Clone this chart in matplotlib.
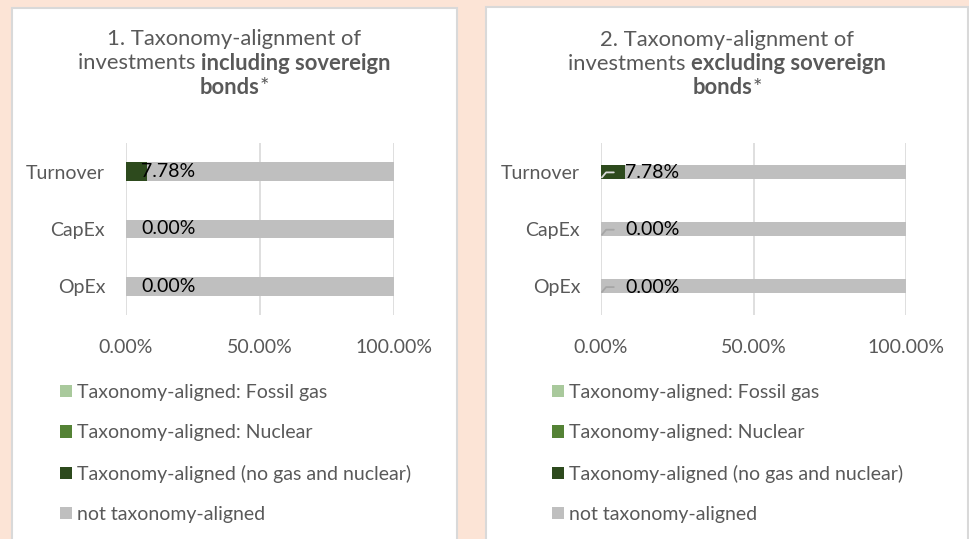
import matplotlib
matplotlib.use("Agg")
import matplotlib.pyplot as plt
from matplotlib.patches import Rectangle, Patch

plt.rcParams['font.family'] = ['Lato', 'DejaVu Sans']

# Data
categories = ['Turnover', 'CapEx', 'OpEx']
fossil_gas = [0.0, 0.0, 0.0]
nuclear = [0.0, 0.0, 0.0]
aligned_other = [7.78, 0.0, 0.0]
not_aligned = [92.22, 100.0, 100.0]
value_labels = ['7.78%', '0.00%', '0.00%']
x_ticks = [0, 50, 100]
x_tick_labels = ['0.00%', '50.00%', '100.00%']
series_names = ['Taxonomy-aligned: Fossil gas', 'Taxonomy-aligned: Nuclear',
                'Taxonomy-aligned (no gas and nuclear)', 'not taxonomy-aligned']
series_colors = ['#A9C99C', '#548235', '#2D4A1D', '#BFBFBF']

W, H = 969, 539
fig = plt.figure(figsize=(W / 100, H / 100), dpi=100)
fig.patch.set_facecolor('#FCE4D6')

GRAY_TXT = '#595959'


def px(x, y, w, h):
    # pixel box (top-left origin) -> figure fraction
    return [x / W, 1 - (y + h) / H, w / W, h / H]


# white panels behind the charts
for (x0, y0, x1) in [(12, 8, 457), (486, 7, 968)]:
    fig.patches.append(Rectangle((x0 / W, -0.01), (x1 - x0) / W, 1.01 - y0 / H,
                                 transform=fig.transFigure, facecolor='white',
                                 edgecolor='#D9D9D9', linewidth=1.5, zorder=-5))


def draw_title(cx, lines):
    renderer = fig.canvas.get_renderer()
    for y, pieces in lines:
        texts = [fig.text(0, 1 - y / H, s, fontsize=15.8, color=GRAY_TXT,
                          fontweight=wt, va='center', ha='left') for s, wt in pieces]
        widths = [t.get_window_extent(renderer).width for t in texts]
        x = cx - sum(widths) / 2
        for t, w in zip(texts, widths):
            t.set_x(x / W)
            x += w


def draw_chart(rect, bar_h, label_dx, leaders):
    ax = fig.add_axes(px(*rect))
    ypos = list(range(len(categories)))
    left = [0.0] * len(categories)
    for vals, color in zip([fossil_gas, nuclear, aligned_other, not_aligned], series_colors):
        ax.barh(ypos, vals, left=left, height=bar_h, color=color, zorder=2)
        left = [a + b for a, b in zip(left, vals)]
    for i, lab in enumerate(value_labels):
        if leaders:
            lc = '#D9D9D9' if aligned_other[i] > 0 else '#A6A6A6'
            ax.annotate(lab, xy=(0.3, i + 0.1), xytext=(label_dx, 5), textcoords='offset pixels',
                        fontsize=14, color='black', va='center', ha='left', zorder=4,
                        arrowprops=dict(arrowstyle='-', color=lc, lw=1.3, shrinkA=6, shrinkB=0,
                                        relpos=(0, 0.5),
                                        connectionstyle='angle,angleA=0,angleB=50,rad=0'))
        else:
            ax.annotate(lab, xy=(0, i), xytext=(label_dx, 0), textcoords='offset pixels',
                        fontsize=14, color='black', va='center', ha='left', zorder=4)
    ax.set_xlim(0, 100)
    ax.set_ylim(len(categories) - 0.5, -0.5)
    ax.set_yticks(ypos)
    ax.set_yticklabels(categories, fontsize=14, color=GRAY_TXT)
    ax.set_xticks(x_ticks)
    ax.set_xticklabels(x_tick_labels, fontsize=14, color=GRAY_TXT)
    ax.tick_params(length=0)
    ax.tick_params(axis='x', pad=17)
    ax.tick_params(axis='y', pad=15)
    ax.grid(axis='x', color='#D9D9D9', linewidth=1.2, zorder=1)
    ax.set_axisbelow(True)
    for s in ax.spines.values():
        s.set_visible(False)
    ax.set_facecolor('none')
    return ax


ax1 = draw_chart((126, 143, 268, 172), 0.33, 15, False)
ax2 = draw_chart((601, 143, 305, 172), 0.25, 23, True)

draw_title(234, [(39, [('1. Taxonomy-alignment of', 'normal')]),
                 (63, [('investments ', 'normal'), ('including sovereign', 'bold')]),
                 (87, [('bonds', 'bold'), ('*', 'normal')])])
draw_title(727, [(40, [('2. Taxonomy-alignment of', 'normal')]),
                 (64, [('investments ', 'normal'), ('excluding sovereign', 'bold')]),
                 (88, [('bonds', 'bold'), ('*', 'normal')])])

handles = [Patch(facecolor=c, edgecolor='none') for c in series_colors]
for ax, x0 in [(ax1, 60), (ax2, 552)]:
    ax.legend(handles, series_names, loc='upper left', bbox_to_anchor=(x0 / W, 1 - 384 / H),
              bbox_transform=fig.transFigure, frameon=False, fontsize=14, labelcolor=GRAY_TXT,
              handlelength=0.6, handleheight=0.6, handletextpad=0.28, labelspacing=1.2,
              borderaxespad=0, borderpad=0)

fig.savefig('out.png', dpi=100, facecolor=fig.get_facecolor())
